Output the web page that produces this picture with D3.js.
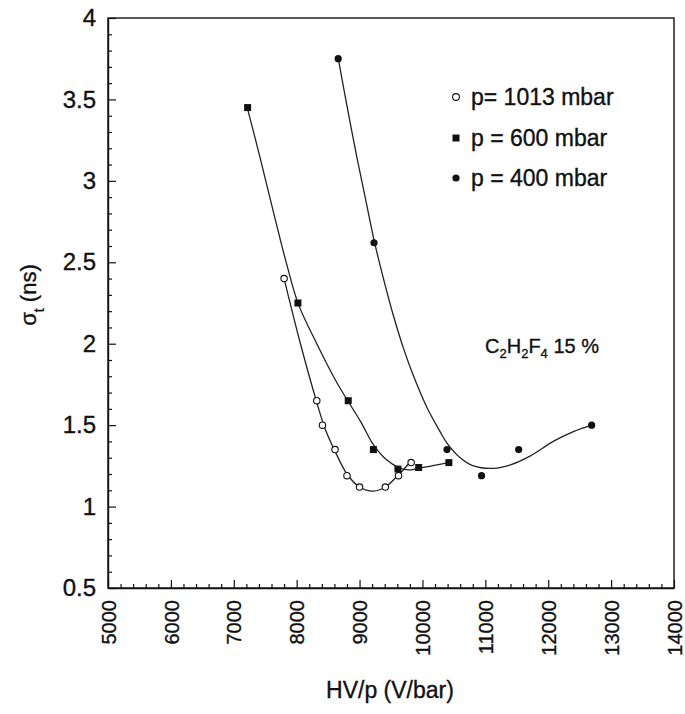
<!DOCTYPE html>
<html>
<head>
<meta charset="utf-8">
<script src="https://cdn.jsdelivr.net/npm/d3@7"></script>
<style>
  html, body { margin: 0; padding: 0; background: #fff; }
  svg { display: block; font-family: "Liberation Sans", Arial, Helvetica, sans-serif; }
  text { fill: #111; stroke: #111; stroke-width: 0.35; }
</style>
</head>
<body>
<svg id="chart" width="685" height="714"></svg>
<script>
// ---- data ----
const p1013X = [7800, 8320, 8410, 8610, 8800, 9000, 9410, 9620, 9820];
const p1013Y = [2.40, 1.65, 1.50, 1.35, 1.19, 1.12, 1.12, 1.19, 1.27];

const p600X = [7220, 8020, 8820, 9220, 9610, 9940, 10420];
const p600Y = [3.45, 2.25, 1.65, 1.35, 1.23, 1.24, 1.27];

const p400X = [8660, 9230, 10390, 10940, 11530, 12690];
const p400Y = [3.75, 2.62, 1.35, 1.19, 1.35, 1.50];

// fitted curves as drawn in the reference
const fit1013X = [7800, 8060, 8320, 8450, 8610, 8800, 9000, 9220, 9410, 9620, 9820];
const fit1013Y = [2.40, 2.00, 1.64, 1.48, 1.34, 1.20, 1.12, 1.095, 1.12, 1.195, 1.28];

const fit600X = [7214, 7420, 7630, 7840, 8030, 8320, 8640, 8820, 9020, 9220, 9420, 9620, 9780, 9940, 10420];
const fit600Y = [3.45, 3.14, 2.81, 2.49, 2.24, 2.00, 1.76, 1.645, 1.52, 1.38, 1.29, 1.24, 1.225, 1.235, 1.27];

const fit400X = [8662, 8800, 8960, 9110, 9234, 9380, 9540, 9700, 9860, 10070, 10280, 10390, 10600, 10810, 11130, 11390, 11710, 12080, 12400, 12690];
const fit400Y = [3.75, 3.46, 3.14, 2.86, 2.63, 2.40, 2.17, 1.97, 1.80, 1.61, 1.46, 1.39, 1.30, 1.25, 1.235, 1.255, 1.31, 1.40, 1.46, 1.50];

const xTicks = [5000, 6000, 7000, 8000, 9000, 10000, 11000, 12000, 13000, 14000];
const yTicks = [0.5, 1, 1.5, 2, 2.5, 3, 3.5, 4];
const legendLabels = ["p= 1013 mbar", "p = 600 mbar", "p = 400 mbar"];

// ---- layout ----
const svg = d3.select("#chart");
const L = 108, R = 674, T = 18, B = 588;
const x = d3.scaleLinear().domain([5000, 14000]).range([L, R]);
const y = d3.scaleLinear().domain([0.5, 4]).range([B, T]);

const g = svg.append("g");

// frame
g.append("rect").attr("x", L).attr("y", T).attr("width", R - L).attr("height", B - T)
  .attr("fill", "none").attr("stroke", "#111").attr("stroke-width", 1.4);

// minor ticks
const xMinor = d3.range(5000, 14001, 200).filter(v => v % 1000 !== 0);
const yMinor = d3.range(5, 41, 1).map(v => v / 10).filter(v => Math.abs(v * 2 - Math.round(v * 2)) > 1e-6);

const xAxis = g.append("g").attr("transform", `translate(0,${B})`)
  .call(d3.axisBottom(x).tickValues(xTicks).tickSizeInner(-8).tickSizeOuter(0).tickPadding(12).tickFormat(d3.format("d")));
g.append("g").attr("transform", `translate(0,${B})`)
  .call(d3.axisBottom(x).tickValues(xMinor).tickSizeInner(-4).tickSizeOuter(0).tickFormat(""))
  .call(s => s.select(".domain").remove());

xAxis.selectAll("text")
  .attr("transform", "rotate(-90)")
  .attr("text-anchor", "end")
  .attr("x", -12).attr("y", 0).attr("dy", "0.36em")
  .attr("font-size", 20)
  .attr("font-family", "'Liberation Sans', Arial, sans-serif");

const yAxis = g.append("g").attr("transform", `translate(${L},0)`)
  .call(d3.axisLeft(y).tickValues(yTicks).tickSizeInner(-8).tickSizeOuter(0).tickPadding(12).tickFormat(d => d3.format("")(d)));
g.append("g").attr("transform", `translate(${L},0)`)
  .call(d3.axisLeft(y).tickValues(yMinor).tickSizeInner(-4).tickSizeOuter(0).tickFormat(""))
  .call(s => s.select(".domain").remove());

yAxis.selectAll("text").attr("font-size", 24)
  .attr("font-family", "'Liberation Sans', Arial, sans-serif");

svg.selectAll(".tick line").attr("stroke", "#111").attr("stroke-width", 1.2);
svg.selectAll(".domain").attr("stroke", "#111").attr("stroke-width", 1.4);

// axis titles
const yt = svg.append("text")
  .attr("transform", `translate(36,${(T + B) / 2 - 8}) rotate(-90)`)
  .attr("text-anchor", "middle").attr("font-size", 22);
yt.append("tspan").text("σ");
yt.append("tspan").attr("font-size", 14).attr("baseline-shift", "sub").text("t");
yt.append("tspan").text(" (ns)");

svg.append("text").attr("x", 390).attr("y", 698).attr("text-anchor", "middle")
  .attr("font-size", 23).text("HV/p (V/bar)");

// curves
const line = d3.line().x(d => x(d[0])).y(d => y(d[1])).curve(d3.curveCatmullRom.alpha(0.5));
const fits = [[fit1013X, fit1013Y], [fit600X, fit600Y], [fit400X, fit400Y]];
fits.forEach(([fx, fy]) => {
  g.append("path").datum(fx.map((v, i) => [v, fy[i]]))
    .attr("d", line).attr("fill", "none").attr("stroke", "#222").attr("stroke-width", 1.3);
});

// markers
const zip = (a, b) => a.map((v, i) => [v, b[i]]);
g.selectAll("circle.p1013").data(zip(p1013X, p1013Y)).enter().append("circle")
  .attr("cx", d => x(d[0])).attr("cy", d => y(d[1])).attr("r", 3.2)
  .attr("fill", "#fff").attr("stroke", "#111").attr("stroke-width", 1.1);
g.selectAll("rect.p600").data(zip(p600X, p600Y)).enter().append("rect")
  .attr("x", d => x(d[0]) - 3.5).attr("y", d => y(d[1]) - 3.5).attr("width", 7).attr("height", 7)
  .attr("fill", "#111");
g.selectAll("circle.p400").data(zip(p400X, p400Y)).enter().append("circle")
  .attr("cx", d => x(d[0])).attr("cy", d => y(d[1])).attr("r", 3.6)
  .attr("fill", "#111");

// legend
const lgX = 456, lgY = [97, 138, 178];
svg.append("circle").attr("cx", lgX).attr("cy", lgY[0]).attr("r", 3.4)
  .attr("fill", "#fff").attr("stroke", "#111").attr("stroke-width", 1.1);
svg.append("rect").attr("x", lgX - 3.5).attr("y", lgY[1] - 3.5).attr("width", 7).attr("height", 7).attr("fill", "#111");
svg.append("circle").attr("cx", lgX).attr("cy", lgY[2]).attr("r", 3.6).attr("fill", "#111");
legendLabels.forEach((t, i) => {
  svg.append("text").attr("x", lgX + 15).attr("y", lgY[i]).attr("dy", "0.36em")
    .attr("font-size", 23).text(t);
});

// annotation
const ann = svg.append("text").attr("x", 485).attr("y", 353).attr("font-size", 20);
ann.append("tspan").text("C");
ann.append("tspan").attr("font-size", 13).attr("dy", 5).text("2");
ann.append("tspan").attr("dy", -5).text("H");
ann.append("tspan").attr("font-size", 13).attr("dy", 5).text("2");
ann.append("tspan").attr("dy", -5).text("F");
ann.append("tspan").attr("font-size", 13).attr("dy", 5).text("4");
ann.append("tspan").attr("dy", -5).text(" 15 %");
</script>
</body>
</html>
